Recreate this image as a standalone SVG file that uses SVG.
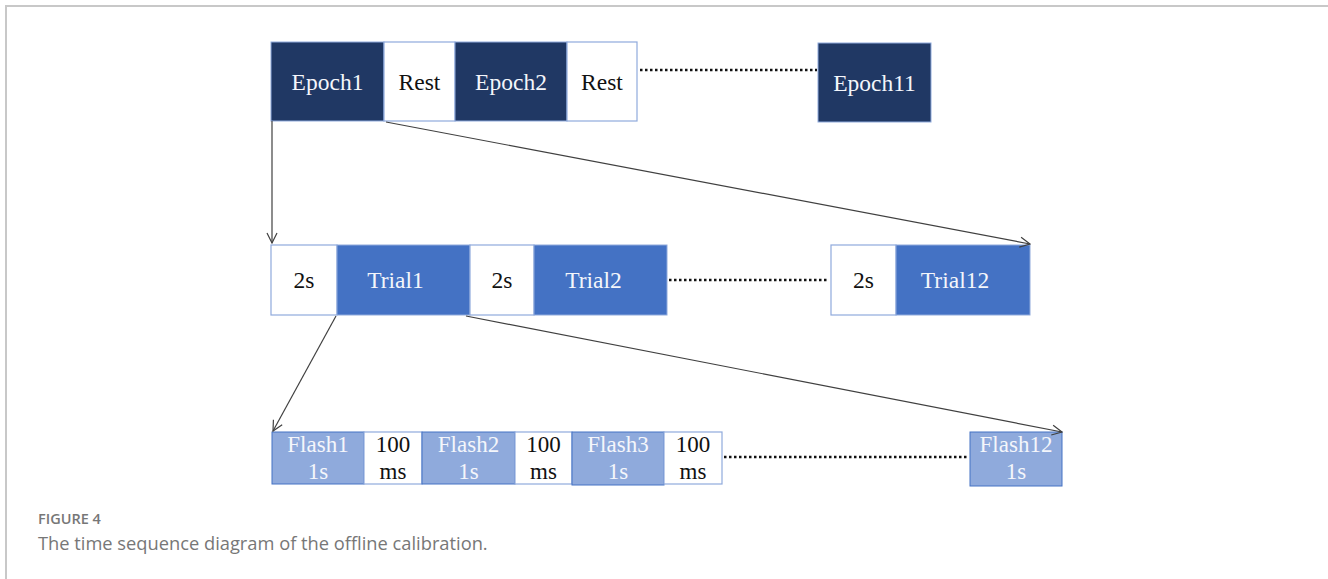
<svg xmlns="http://www.w3.org/2000/svg" width="1328" height="579" viewBox="0 0 1328 579">
  <style>
    .dark { fill: #203864; stroke: #8faadc; stroke-width: 1; }
    .mid { fill: #4472c4; stroke: #8faadc; stroke-width: 1; }
    .light { fill: #8faadc; stroke: #4472c4; stroke-width: 1; }
    .blank { fill: #ffffff; stroke: #8faadc; stroke-width: 1.2; }
    .lbl { font-family: "Liberation Serif", "Times New Roman", serif; font-size: 23.5px; text-anchor: middle; }
    .sm { font-family: "Liberation Serif", "Times New Roman", serif; font-size: 23px; text-anchor: middle; }
    .w { fill: #f4f6fb; }
    .k { fill: #111111; }
    .dots { stroke: #111111; stroke-width: 2.5; stroke-dasharray: 2.5 2.5; fill: none; }
    .link { stroke: #404040; stroke-width: 1.2; fill: none; marker-end: url(#arr); }
    .frame { stroke: #c8c8c8; stroke-width: 2; fill: none; }
    .cap { font-family: "Open Sans", "Liberation Sans", sans-serif; fill: #777777; }
  </style>
  <defs>
    <marker id="arr" viewBox="0 0 12 12" refX="11" refY="6" markerWidth="12" markerHeight="12" markerUnits="userSpaceOnUse" orient="auto">
      <path d="M1,1 L11,6 L1,11" fill="none" stroke="#404040" stroke-width="1.2"/>
    </marker>
  </defs>

  <!-- page frame -->
  <path class="frame" d="M6,579 L6,6 L1328,6"/>

  <!-- epochs row -->
  <g id="epoch1"><rect class="dark" x="271" y="42" width="113" height="79"/><text class="lbl w" x="327.5" y="90">Epoch1</text></g>
  <g id="rest1"><rect class="blank" x="384" y="42" width="71" height="79"/><text class="lbl k" x="419.5" y="90">Rest</text></g>
  <g id="epoch2"><rect class="dark" x="455" y="42" width="112" height="79"/><text class="lbl w" x="511" y="90">Epoch2</text></g>
  <g id="rest2"><rect class="blank" x="567" y="42" width="70" height="79"/><text class="lbl k" x="602" y="90">Rest</text></g>
  <g id="epoch11"><rect class="dark" x="818" y="43" width="113" height="79"/><text class="lbl w" x="874.5" y="91">Epoch11</text></g>

  <!-- trials row -->
  <g id="wait1"><rect class="blank" x="271" y="245" width="66" height="70"/><text class="lbl k" x="304" y="288">2s</text></g>
  <g id="trial1"><rect class="mid" x="337" y="245" width="133" height="70"/><text class="lbl w" x="395.5" y="288">Trial1</text></g>
  <g id="wait2"><rect class="blank" x="470" y="245" width="64" height="70"/><text class="lbl k" x="502" y="288">2s</text></g>
  <g id="trial2"><rect class="mid" x="534" y="245" width="133" height="70"/><text class="lbl w" x="593.5" y="288">Trial2</text></g>
  <g id="wait12"><rect class="blank" x="831" y="245" width="65" height="70"/><text class="lbl k" x="863.5" y="288">2s</text></g>
  <g id="trial12"><rect class="mid" x="896" y="245" width="134" height="70"/><text class="lbl w" x="955" y="288">Trial12</text></g>

  <!-- flashes row -->
  <g id="flash1"><rect class="light" x="272" y="432" width="92" height="52"/><text class="sm w" x="318" y="452">Flash1</text><text class="sm w" x="318" y="479">1s</text></g>
  <g id="gap1"><rect class="blank" x="364" y="432" width="58" height="52"/><text class="sm k" x="393" y="452">100</text><text class="sm k" x="393" y="479">ms</text></g>
  <g id="flash2"><rect class="light" x="422" y="432" width="93" height="52"/><text class="sm w" x="468.5" y="452">Flash2</text><text class="sm w" x="468.5" y="479">1s</text></g>
  <g id="gap2"><rect class="blank" x="515" y="432" width="57" height="52"/><text class="sm k" x="543.5" y="452">100</text><text class="sm k" x="543.5" y="479">ms</text></g>
  <g id="flash3"><rect class="light" x="572" y="432" width="92" height="53"/><text class="sm w" x="618" y="452">Flash3</text><text class="sm w" x="618" y="479">1s</text></g>
  <g id="gap3"><rect class="blank" x="664" y="432" width="58" height="52"/><text class="sm k" x="693" y="452">100</text><text class="sm k" x="693" y="479">ms</text></g>
  <g id="flash12"><rect class="light" x="970" y="432" width="92" height="54"/><text class="sm w" x="1016" y="452">Flash12</text><text class="sm w" x="1016" y="479">1s</text></g>

  <!-- connectors -->
  <g id="connectors">
    <line class="dots" x1="640" y1="70" x2="817" y2="70"/>
    <line class="dots" x1="669" y1="280" x2="829" y2="280"/>
    <line class="dots" x1="724" y1="457" x2="968" y2="457"/>
    <line class="link" x1="272" y1="121" x2="272" y2="243"/>
    <line class="link" x1="386" y1="122" x2="1030" y2="244"/>
    <line class="link" x1="336" y1="316" x2="273" y2="431"/>
    <line class="link" x1="466" y1="316" x2="1062" y2="432"/>
  </g>

  <!-- caption -->
  <text class="cap" x="38" y="524" font-size="14.5" font-weight="600">FIGURE 4</text>
  <text class="cap" x="38" y="550" font-size="18.3">The time sequence diagram of the offline calibration.</text>
</svg>
